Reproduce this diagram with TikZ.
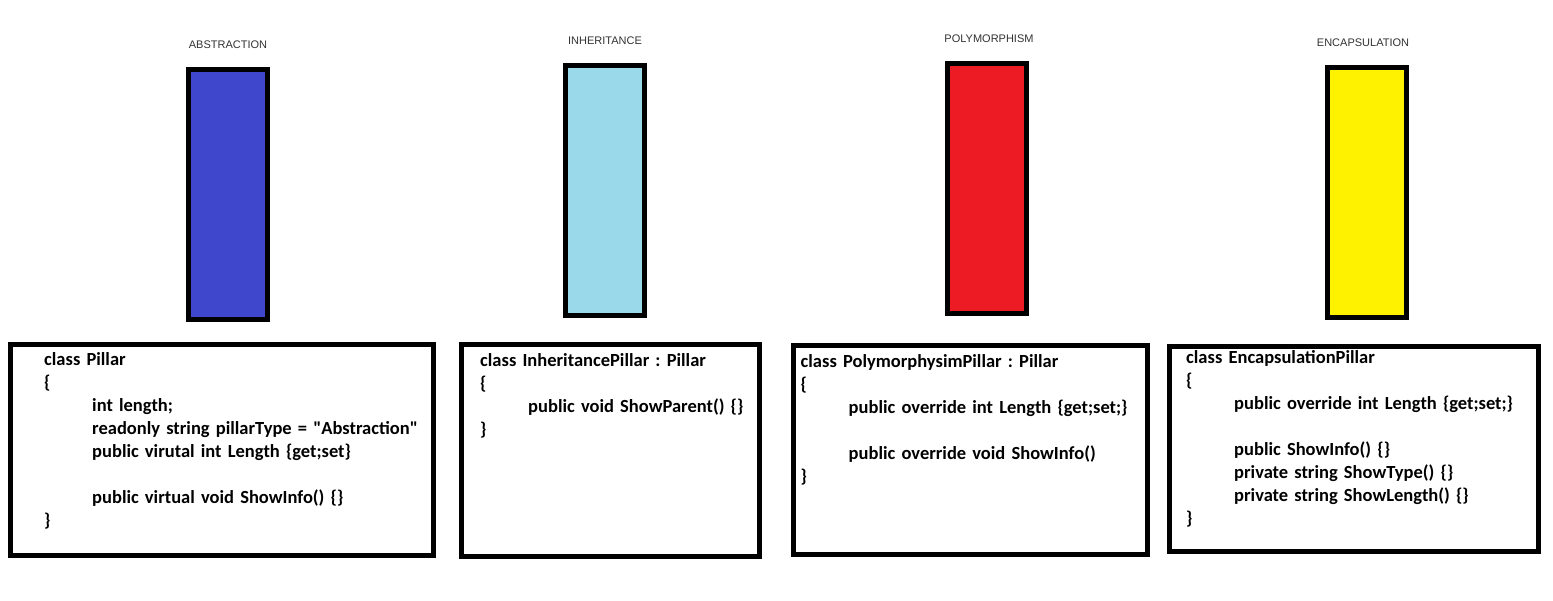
\documentclass[tikz,border=0pt]{standalone}
\usepackage{fontspec}
\usepackage{tikz}
\usetikzlibrary{positioning}
\newfontfamily\codefont{Carlito}
\newfontfamily\capfont{Liberation Sans}
\definecolor{AbsBlue}{HTML}{3F48CC}
\definecolor{InhBlue}{HTML}{99D9EA}
\definecolor{PolyRed}{HTML}{ED1C24}
\definecolor{EncYellow}{HTML}{FFF200}
\definecolor{CapGray}{HTML}{333333}
\newcommand{\ind}{\hspace*{48pt}}

\begin{document}
\begin{tikzpicture}[x=1pt, y=-1pt, node distance=18pt,
  pillar/.style={draw=black, line width=5pt, minimum width=79pt,
    minimum height=250pt, inner sep=0pt},
  caption/.style={text=CapGray, inner sep=0pt,
    font=\capfont\fontsize{11}{13}\selectfont},
  codebox/.style={draw=black, line width=5pt, inner sep=0pt},
  code/.style={anchor=base west, inner sep=0pt, text width=400pt, align=left,
    font=\codefont\bfseries\fontsize{18.5}{23}\selectfont\frenchspacing}]
  \useasboundingbox[fill=white] (0,0) rectangle (1553,600);

  % pillars
  \node[pillar, fill=AbsBlue] (abs) at (228,194.5) {};
  \node[pillar, fill=InhBlue] (inh) at (605,190.5) {};
  \node[pillar, fill=PolyRed] (poly) at (987,188.5) {};
  \node[pillar, fill=EncYellow] (enc) at (1367,192.5) {};

  \node[caption, above=of abs] (absl) {ABSTRACTION};
  \node[caption, above=of inh] (inhl) {INHERITANCE};
  \node[caption, above=of poly, xshift=2pt] (polyl) {POLYMORPHISM};
  \node[caption, above=of enc, xshift=-4pt] (encl) {ENCAPSULATION};

  % code boxes
  \node[codebox, minimum width=423pt, minimum height=211pt] (absbox) at (222,450) {};
  \node[codebox, minimum width=298pt, minimum height=212pt] (inhbox) at (610.5,450.5) {};
  \node[codebox, minimum width=354pt, minimum height=209pt] (polybox) at (970.5,450) {};
  \node[codebox, minimum width=369pt, minimum height=205pt] (encbox) at (1354,449) {};

  \node[code] (abscode) at (44,365) {class Pillar\\
    \{\\
    \ind int length;\\
    \ind readonly string pillarType = "Abstraction"\\
    \ind public virutal int Length \{get;set\}\\
    \mbox{}\\
    \ind public virtual void ShowInfo() \{\}\\
    \}};
  \node[code] (inhcode) at (480,366) {class InheritancePillar : Pillar\\
    \{\\
    \ind public void ShowParent() \{\}\\
    \}};
  \node[code] (polycode) at (800.5,367) {class PolymorphysimPillar : Pillar\\
    \{\\
    \ind public override int Length \{get;set;\}\\
    \mbox{}\\
    \ind public override void ShowInfo()\\
    \}};
  \node[code] (enccode) at (1186,363) {class EncapsulationPillar\\
    \{\\
    \ind public override int Length \{get;set;\}\\
    \mbox{}\\
    \ind public ShowInfo() \{\}\\
    \ind private string ShowType() \{\}\\
    \ind private string ShowLength() \{\}\\
    \}};
\end{tikzpicture}
\end{document}
